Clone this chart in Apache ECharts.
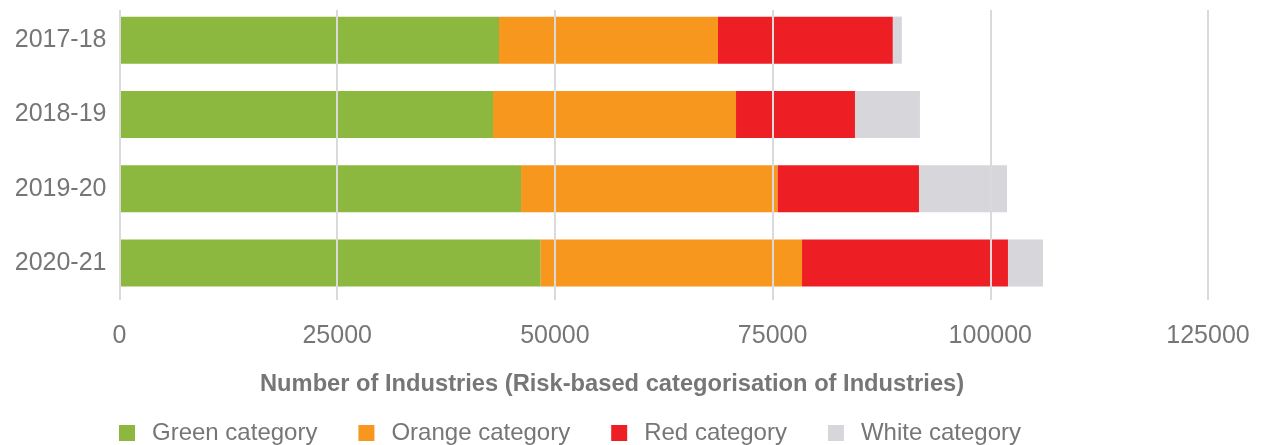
<!DOCTYPE html>
<html>
<head>
<meta charset="utf-8">
<script src="https://cdn.jsdelivr.net/npm/echarts@6/dist/echarts.min.js"></script>
<style>html,body{margin:0;padding:0;background:#fff;}#c{width:1261px;height:445px;}</style>
</head>
<body>
<div id="c"></div>
<script>
const categories = ['2017-18', '2018-19', '2019-20', '2020-21'];
const seriesNames = ['Green category', 'Orange category', 'Red category', 'White category'];
const greenValues = [43580, 42890, 46110, 48370];
const orangeValues = [25150, 27910, 29470, 30010];
const redValues = [20080, 13660, 16230, 23650];
const whiteValues = [1030, 7460, 10110, 4020];
const xTicks = [0, 25000, 50000, 75000, 100000, 125000];
const axisTitle = 'Number of Industries (Risk-based categorisation of Industries)';

const colors = ['#8DB83F', '#F7971E', '#EE1F24', '#D6D6DB'];
const FONT = 'Liberation Sans';
const txt = '#767676';

const chart = echarts.init(document.getElementById('c'), null, {renderer: 'canvas'});
const valuesList = [greenValues, orangeValues, redValues, whiteValues];

chart.setOption({
  animation: false,
  color: colors,
  title: {
    text: axisTitle,
    left: 255, top: 367,
    textStyle: {fontFamily: FONT, fontSize: 23.7, fontWeight: 'bold', color: txt}
  },
  legend: {
    data: seriesNames,
    left: 119, top: 421, padding: 0,
    itemWidth: 16, itemHeight: 16, itemGap: 41,
    icon: 'rect',
    textStyle: {fontFamily: FONT, fontSize: 24, color: txt, padding: [0, 0, 0, 12]}
  },
  grid: [
    {left: 119.5, right: 53, top: 10, bottom: 145},
    {left: 119.5, right: 53, top: 3, bottom: 145}
  ],
  xAxis: [
    {
      gridIndex: 0, type: 'value', min: xTicks[0], max: xTicks[xTicks.length - 1], interval: 25000,
      z: 10,
      axisLine: {show: false}, axisTick: {show: false},
      splitLine: {show: true, lineStyle: {color: '#DADADA', width: 2}},
      axisLabel: {fontFamily: FONT, fontSize: 25, color: txt, margin: 24,
        formatter: v => String(v)}
    },
    {
      gridIndex: 1, type: 'value', min: xTicks[0], max: xTicks[xTicks.length - 1], interval: 25000,
      show: false, splitLine: {show: false}
    }
  ],
  yAxis: [
    {gridIndex: 0, type: 'category', data: categories, inverse: true, show: false},
    {
      gridIndex: 1, type: 'category', data: categories, inverse: true,
      axisLine: {show: false}, axisTick: {show: false}, splitLine: {show: false},
      axisLabel: {fontFamily: FONT, fontSize: 25, color: txt, margin: 13}
    }
  ],
  series: seriesNames.map((name, i) => ({
    name: name,
    type: 'bar',
    stack: 'total',
    xAxisIndex: 1, yAxisIndex: 1,
    barWidth: 47,
    data: valuesList[i],
    itemStyle: {color: colors[i]}
  }))
});
</script>
</body>
</html>
